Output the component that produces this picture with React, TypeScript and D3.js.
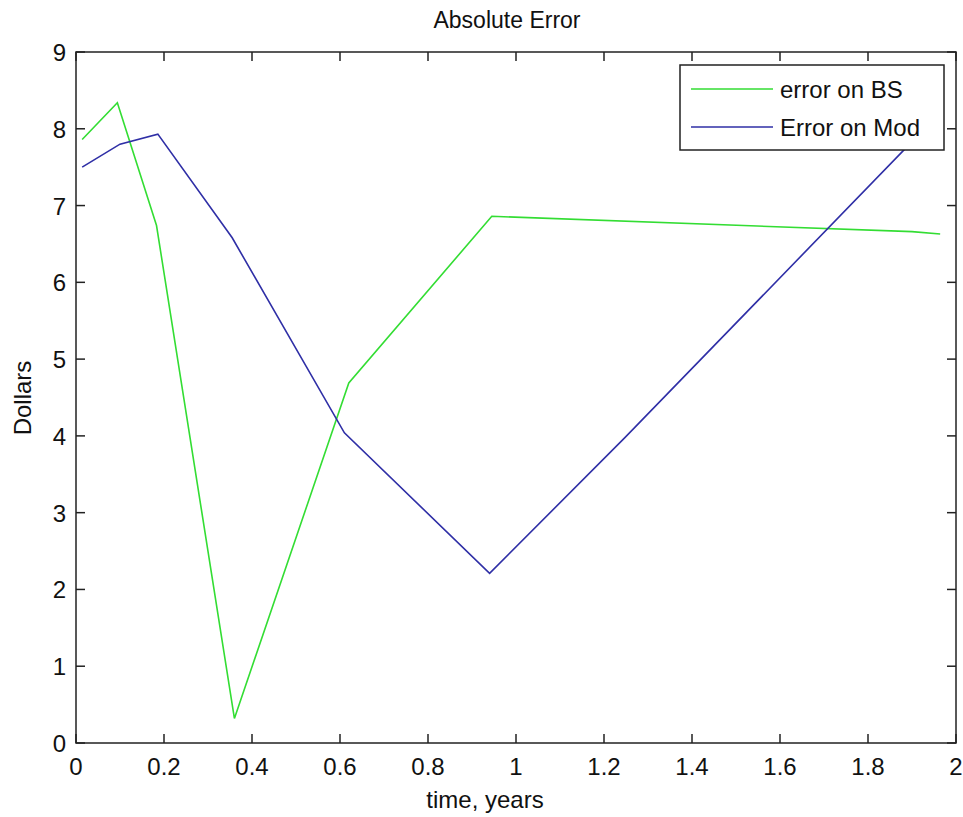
import React from "react";
import * as d3 from "d3";

const bsX = [0.014, 0.094, 0.183, 0.36, 0.62, 0.945, 1.9, 1.964];
const bsY = [7.86, 8.34, 6.74, 0.32, 4.69, 6.86, 6.66, 6.63];
const modX = [0.014, 0.1, 0.186, 0.355, 0.61, 0.94, 1.248, 1.964];
const modY = [7.5, 7.8, 7.93, 6.58, 4.04, 2.21, 3.98, 8.21];
const xTicks = [0, 0.2, 0.4, 0.6, 0.8, 1, 1.2, 1.4, 1.6, 1.8, 2];
const yTicks = [0, 1, 2, 3, 4, 5, 6, 7, 8, 9];
const seriesNames = ["error on BS", "Error on Mod"];
const seriesColors = ["#33dd33", "#2f2fa6"];

const W = 963, H = 817;
const L = 76, R = 956, T = 52, B = 743;
const FONT = "Liberation Sans, Arial, sans-serif";
const FS = 24;

export default function App() {
  const x = d3.scaleLinear().domain([0, 2]).range([L, R]);
  const y = d3.scaleLinear().domain([0, 9]).range([B, T]);
  const line = d3.line<[number, number]>().x(d => x(d[0])).y(d => y(d[1]));
  const bs = bsX.map((v, i) => [v, bsY[i]] as [number, number]);
  const mod = modX.map((v, i) => [v, modY[i]] as [number, number]);
  const tl = 9;
  const lgL = 680, lgR = 944, lgT = 65, lgB = 150;
  return (
    <svg width={W} height={H} style={{ position: "absolute", left: 0, top: 0, background: "#fff" }} fontFamily={FONT}>
      <rect x={0} y={0} width={W} height={H} fill="#fff" />
      <path d={line(bs) || ""} fill="none" stroke={seriesColors[0]} strokeWidth={1.6} />
      <path d={line(mod) || ""} fill="none" stroke={seriesColors[1]} strokeWidth={1.6} />
      <rect x={L} y={T} width={R - L} height={B - T} fill="none" stroke="#222" strokeWidth={1.5} />
      {xTicks.map(t => (
        <g key={"x" + t}>
          <line x1={x(t)} x2={x(t)} y1={B} y2={B - tl} stroke="#222" strokeWidth={1.5} />
          <line x1={x(t)} x2={x(t)} y1={T} y2={T + tl} stroke="#222" strokeWidth={1.5} />
          <text x={x(t)} y={775} textAnchor="middle" fontSize={FS} fill="#111">{String(t)}</text>
        </g>
      ))}
      {yTicks.map(t => (
        <g key={"y" + t}>
          <line x1={L} x2={L + tl} y1={y(t)} y2={y(t)} stroke="#222" strokeWidth={1.5} />
          <line x1={R} x2={R - tl} y1={y(t)} y2={y(t)} stroke="#222" strokeWidth={1.5} />
          <text x={66} y={y(t) + 9} textAnchor="end" fontSize={FS} fill="#111">{String(t)}</text>
        </g>
      ))}
      <text x={507} y={28} textAnchor="middle" fontSize={FS - 1} fill="#111">Absolute Error</text>
      <text x={485} y={808} textAnchor="middle" fontSize={FS} fill="#111">time, years</text>
      <text transform={`translate(31,398) rotate(-90)`} textAnchor="middle" fontSize={FS} fill="#111">Dollars</text>
      <rect x={lgL} y={lgT} width={lgR - lgL} height={lgB - lgT} fill="#fff" stroke="#222" strokeWidth={1.5} />
      {seriesNames.map((n, i) => {
        const yy = 89 + i * 38;
        return (
          <g key={n}>
            <line x1={691} x2={773} y1={yy} y2={yy} stroke={seriesColors[i]} strokeWidth={1.6} />
            <text x={780} y={yy + 9} fontSize={FS} fill="#111">{n}</text>
          </g>
        );
      })}
    </svg>
  );
}
